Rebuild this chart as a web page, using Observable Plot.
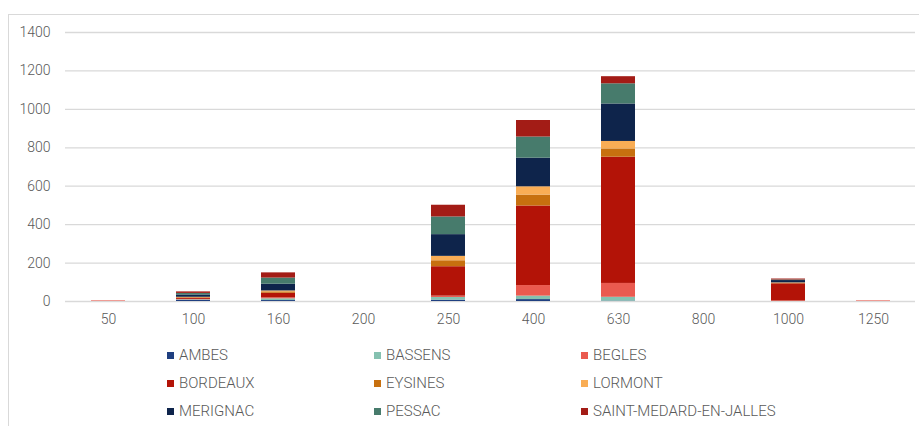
<!DOCTYPE html>
<html>
<head>
<meta charset="utf-8">
<script src="https://cdn.jsdelivr.net/npm/d3@7"></script>
<script src="https://cdn.jsdelivr.net/npm/@observablehq/plot@0.6"></script>
<style>
  html, body { margin: 0; padding: 0; background: #fff; }
  body { width: 919px; height: 426px; overflow: hidden; position: relative;
         font-family: Roboto, "Liberation Sans", sans-serif; }
  #frame { position: absolute; left: 8px; top: 14px; width: 930px; height: 430px;
           border: 1px solid #d9d9d9; box-sizing: border-box; }
  #chart { position: absolute; left: 0; top: 0; }
  #legend { position: absolute; left: 167px; top: 341px; display: grid;
            grid-template-columns: 207px 207px 230px; grid-auto-rows: 28px;
            font-size: 15px; font-weight: 300; color: #595959; }
  #legend .item { display: flex; align-items: center; white-space: nowrap; }
  #legend .sw { width: 7px; height: 7px; margin-right: 5px; flex: none; }
</style>
</head>
<body>
<div id="frame"></div>
<div id="chart"></div>
<div id="legend"></div>
<script>
const categories = ["50","100","160","200","250","400","630","800","1000","1250"];
const communes = ["AMBES","BASSENS","BEGLES","BORDEAUX","EYSINES","LORMONT","MERIGNAC","PESSAC","SAINT-MEDARD-EN-JALLES"];
const colors = ["#1f3f80","#85c1b0","#ea5a4f","#b31307","#c7700f","#f9ad55","#0e244b","#477b6c","#a31c16"];

const AMBES    = [0, 6,  5, 0,   7,  10,   2, 0,  0, 0];
const BASSENS  = [0, 3,  9, 0,  14,  18,  20, 0,  0, 0];
const BEGLES   = [3, 2,  5, 0,   7,  55,  72, 0,  3, 3];
const BORDEAUX = [0, 6, 24, 0, 153, 414, 657, 0, 89, 0];
const EYSINES  = [0, 3,  7, 0,  31,  57,  43, 0,  3, 0];
const LORMONT  = [0, 2,  5, 0,  23,  43,  39, 0,  2, 0];
const MERIGNAC = [0,12, 35, 0, 113, 149, 195, 0, 12, 0];
const PESSAC   = [0, 8, 32, 0,  92, 110, 105, 0,  3, 0];
const SMJ      = [0, 8, 27, 0,  61,  86,  37, 0,  5, 0];

const yTicks = [0,200,400,600,800,1000,1200,1400];

const series = [AMBES, BASSENS, BEGLES, BORDEAUX, EYSINES, LORMONT, MERIGNAC, PESSAC, SMJ];
const data = [];
communes.forEach((c, i) => {
  categories.forEach((cat, j) => {
    data.push({cat, commune: c, value: series[i][j]});
  });
});

const chart = Plot.plot({
  width: 919,
  height: 336,
  marginTop: 32,
  marginBottom: 35,
  marginLeft: 65,
  marginRight: 4,
  style: {fontFamily: 'Roboto, "Liberation Sans", sans-serif', fontSize: "14px", fontWeight: 300, color: "#595959", background: "transparent"},
  x: {domain: categories, paddingInner: 0.6, paddingOuter: 0.3, label: null, tickSize: 0, tickPadding: 13},
  y: {domain: [0, 1400], ticks: yTicks, label: null, tickSize: 0, tickPadding: 15, tickFormat: d => String(d)},
  color: {domain: communes, range: colors},
  marks: [
    Plot.gridY(yTicks, {stroke: "#d9d9d9", strokeOpacity: 1, strokeWidth: 1.3}),
    Plot.barY(data, Plot.stackY({order: communes}, {x: "cat", y: "value", fill: "commune"})),
    Plot.axisX({tickSize: 0, tickPadding: 13, fill: "#595959"}),
    Plot.axisY({ticks: yTicks, tickSize: 0, tickPadding: 15, fill: "#595959", tickFormat: d => String(d)})
  ]
});
document.getElementById("chart").appendChild(chart);

const legend = document.getElementById("legend");
communes.forEach((c, i) => {
  const item = document.createElement("div");
  item.className = "item";
  const sw = document.createElement("span");
  sw.className = "sw";
  sw.style.background = colors[i];
  const t = document.createElement("span");
  t.textContent = c;
  item.appendChild(sw);
  item.appendChild(t);
  legend.appendChild(item);
});
</script>
</body>
</html>
